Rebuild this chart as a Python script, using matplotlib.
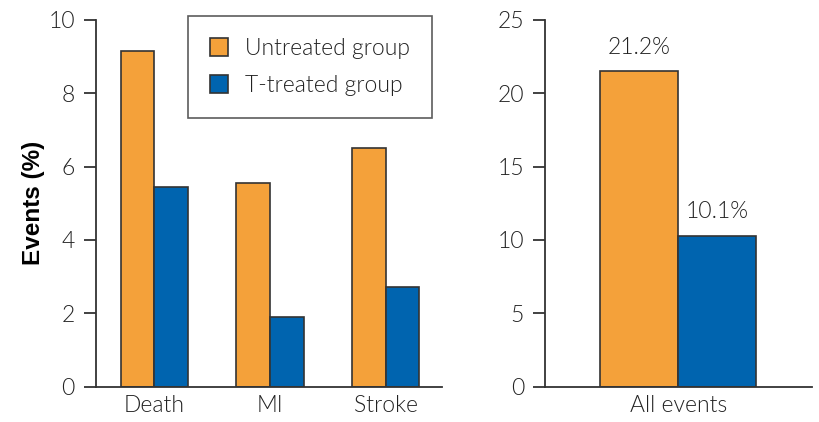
import numpy as np
import matplotlib
matplotlib.use("Agg")
import matplotlib.pyplot as plt

categories = ["Death", "MI", "Stroke"]
untreated = [9.15, 5.55, 6.5]
treated = [5.45, 1.9, 2.72]

all_label = ["All events"]
all_untreated = [21.5]
all_treated = [10.3]
all_text = ["21.2%", "10.1%"]

orange = "#F4A13A"
blue = "#0064AF"
edge = "#333333"
txt = "#222222"

plt.rcParams['font.family'] = ['Lato', 'DejaVu Sans']
plt.rcParams['font.weight'] = 300

fig = plt.figure(figsize=(8.2, 4.22), dpi=100)
ax1 = fig.add_axes([0.1167, 0.0837, 0.422, 0.869])
ax2 = fig.add_axes([0.6646, 0.0837, 0.326, 0.869])

w = 0.29
x = np.arange(len(categories))
ax1.bar(x - w/2, untreated, w, color=orange, edgecolor=edge, linewidth=1.2, label="Untreated group")
ax1.bar(x + w/2, treated, w, color=blue, edgecolor=edge, linewidth=1.2, label="T-treated group")
ax1.set_xlim(-0.506, 2.484)
ax1.set_ylim(0, 10)
ax1.set_yticks([0, 2, 4, 6, 8, 10])
ax1.set_xticks(x)
ax1.set_xticklabels(categories)
ax1.set_ylabel("Events (%)", fontsize=17.5, fontweight="bold", family="Liberation Sans", labelpad=2)

w2 = 0.35
ax2.bar([-w2/2], all_untreated, w2, color=orange, edgecolor=edge, linewidth=1.2)
ax2.bar([w2/2], all_treated, w2, color=blue, edgecolor=edge, linewidth=1.2)
ax2.set_xlim(-0.598, 0.601)
ax2.set_ylim(0, 25)
ax2.set_yticks([0, 5, 10, 15, 20, 25])
ax2.set_xticks([0])
ax2.set_xticklabels(all_label)
ax2.text(-w2/2, all_untreated[0] + 0.9, all_text[0], ha="center", va="bottom", fontsize=16.5, color=txt)
ax2.text(w2/2, all_treated[0] + 0.9, all_text[1], ha="center", va="bottom", fontsize=16.5, color=txt)

for ax in (ax1, ax2):
    for s in ("top", "right"):
        ax.spines[s].set_visible(False)
    for s in ("left", "bottom"):
        ax.spines[s].set_color(edge)
        ax.spines[s].set_linewidth(1.3)
    ax.tick_params(axis="y", length=9, width=1.3, color=edge, labelsize=16.5, labelcolor=txt, pad=6)
    ax.tick_params(axis="x", length=0, labelsize=16.5, labelcolor=txt, pad=6)

leg = ax1.legend(loc="upper right", bbox_to_anchor=(0.972, 1.011), borderaxespad=0, fontsize=16.5,
                 frameon=True, fancybox=False, edgecolor=edge, handlelength=0.8, handleheight=0.85,
                 borderpad=0.95, labelspacing=0.7, handletextpad=0.75)
leg.get_frame().set_linewidth(1.2)
for t in leg.get_texts():
    t.set_color(txt)

fig.savefig("out.png", dpi=100)
